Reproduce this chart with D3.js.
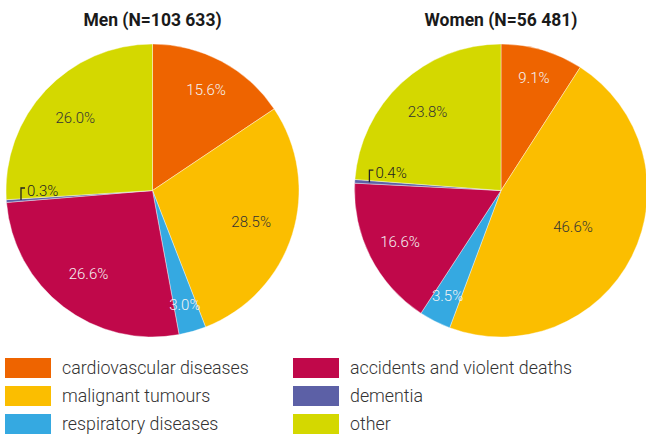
<!DOCTYPE html>
<html><head><meta charset="utf-8">
<script src="https://cdn.jsdelivr.net/npm/d3@7"></script>
<style>body{margin:0;background:#fff}svg{display:block}</style>
</head><body><svg id="c" width="646" height="434"></svg>
<script>
const categories = ["cardiovascular diseases","malignant tumours","respiratory diseases","accidents and violent deaths","dementia","other"];
const colors = ["#EE6400","#FBBE00","#35A9E1","#C0084A","#5C60A6","#D4D800"];
const labelColors = ["#f4f4f4","#333","#f4f4f4","#f4f4f4","#333","#333"];
const menValues = [15.6,28.5,3.0,26.6,0.3,26.0];
const womenValues = [9.1,46.6,3.5,16.6,0.4,23.8];
const titles = ["Men (N=103 633)","Women (N=56 481)"];

const svg = d3.select("#c");
const font = "Roboto, 'Noto Sans', sans-serif";
const R = 146.5;
const centers = [[152.5,190.5],[501,190.5]];
const pie = d3.pie().sort(null).value(d=>d);
const arc = d3.arc().innerRadius(0).outerRadius(R);

[menValues,womenValues].forEach((vals,k)=>{
  const g = svg.append("g").attr("transform",`translate(${centers[k][0]},${centers[k][1]})`);
  svg.append("text").attr("x",centers[k][0]).attr("y",26).attr("text-anchor","middle")
    .attr("font-family",font).attr("font-weight","bold").attr("font-size",17.5).attr("fill","#1a1a1a").text(titles[k]);
  const arcs = pie(vals);
  g.selectAll("path").data(arcs).join("path").attr("d",arc)
    .attr("fill",(d,i)=>colors[i]).attr("stroke","#fff").attr("stroke-width",0.4);
  arcs.forEach((d,i)=>{
    const mid=(d.startAngle+d.endAngle)/2;
    const half=(d.endAngle-d.startAngle)/2;
    const txt = d3.format(".1f")(d.data)+"%";
    if(d.data<1){
      const r=0.9*R;
      const x=Math.sin(mid)*r, y=-Math.cos(mid)*r;
      g.append("path").attr("d",`M${x},${y}V${y-12}H${x+4}`).attr("fill","none").attr("stroke","#222").attr("stroke-width",1.3);
      g.append("text").attr("x",x+6).attr("y",y-4).attr("font-family",font).attr("font-weight",300)
        .attr("font-size",15).attr("fill","#222").text(txt);
    } else {
      const lr = 0.81*R*Math.sin(half)/half;
      const x=Math.sin(mid)*lr, y=-Math.cos(mid)*lr;
      g.append("text").attr("x",x).attr("y",y).attr("dy","0.35em").attr("text-anchor","middle")
        .attr("font-family",font).attr("font-weight",300).attr("font-size",15).attr("fill",labelColors[i]).text(txt);
    }
  });
});

// legend
categories.forEach((c,i)=>{
  const col=Math.floor(i/3), row=i%3;
  const x = col===0?5:293, y=358+row*28;
  svg.append("rect").attr("x",x).attr("y",y).attr("width",46).attr("height",20).attr("fill",colors[i]);
  svg.append("text").attr("x",x+57).attr("y",y+10).attr("dy","0.35em").attr("font-family",font).attr("font-weight",300)
    .attr("font-size",17.8).attr("fill","#333").text(c);
});
</script></body></html>
